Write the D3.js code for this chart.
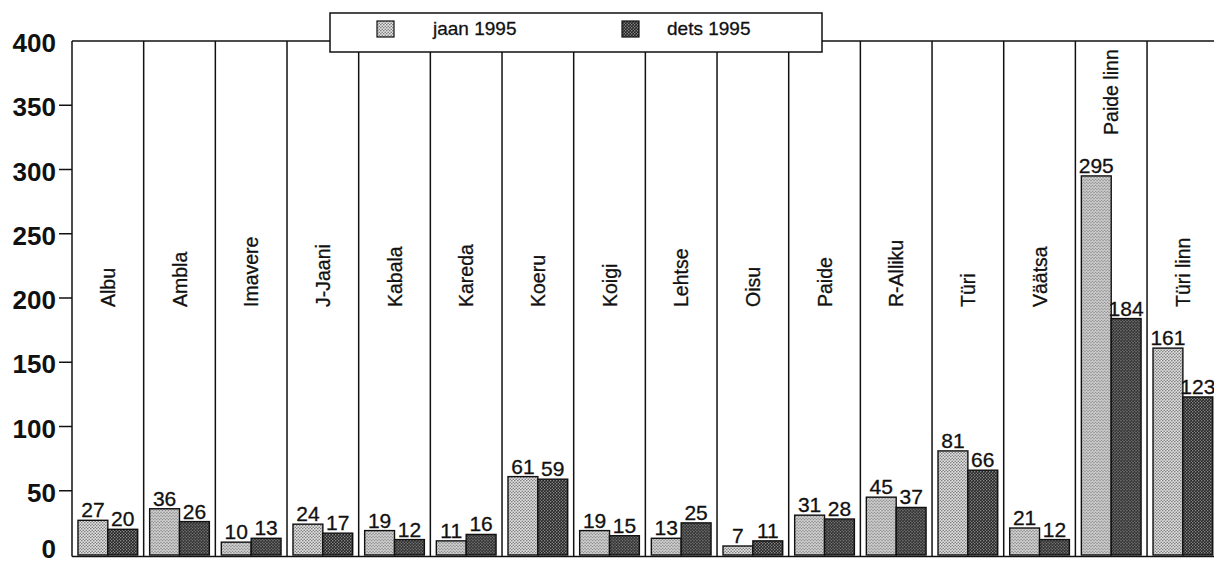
<!DOCTYPE html>
<html>
<head>
<meta charset="utf-8">
<script src="https://cdn.jsdelivr.net/npm/d3@7"></script>
<style>
  body { margin: 0; background: #fff; }
  svg { display: block; font-family: "Liberation Sans", Arial, sans-serif; }
  .frame { stroke: #111; stroke-width: 1.5; fill: none; }
  .bar { stroke: #111; stroke-width: 1.4; }
  .ytick { font-size: 26px; font-weight: bold; fill: #111; }
  .cat { font-size: 19.5px; fill: #111; stroke: #111; stroke-width: 0.3; }
  .val { font-size: 21px; fill: #111; stroke: #111; stroke-width: 0.3; }
  .legend text { font-size: 19px; fill: #111; stroke: #111; stroke-width: 0.3; }
</style>
</head>
<body>
<svg class="chart" width="1214" height="565"></svg>
<script>
const categories = ["Albu", "Ambla", "Imavere", "J-Jaani", "Kabala", "Kareda", "Koeru", "Koigi",
    "Lehtse", "Oisu", "Paide", "R-Alliku", "Türi", "Väätsa", "Paide linn", "Türi linn"]
const jaan = [27, 36, 10, 24, 19, 11, 61, 19, 13, 7, 31, 45, 81, 21, 295, 161]
const dets = [20, 26, 13, 17, 12, 16, 59, 15, 25, 11, 28, 37, 66, 12, 184, 123]
const seriesNames = ["jaan 1995", "dets 1995"]
const yTicks = [0, 50, 100, 150, 200, 250, 300, 350, 400]

const svg = d3.select("svg.chart")

const defs = svg.append("defs")

const light = defs.append("pattern")
    .attr("id", "light")
    .attr("patternUnits", "userSpaceOnUse")
    .attr("width", 3)
    .attr("height", 3)
light.append("rect").attr("width", 3).attr("height", 3).attr("fill", "#e4e4e4")
light.append("circle").attr("cx", 0.75).attr("cy", 0.75).attr("r", 0.8).attr("fill", "#777")
light.append("circle").attr("cx", 2.25).attr("cy", 2.25).attr("r", 0.8).attr("fill", "#777")

const dark = defs.append("pattern")
    .attr("id", "dark")
    .attr("patternUnits", "userSpaceOnUse")
    .attr("width", 3)
    .attr("height", 3)
dark.append("rect").attr("width", 3).attr("height", 3).attr("fill", "#222")
dark.append("circle").attr("cx", 0.75).attr("cy", 0.75).attr("r", 0.7).attr("fill", "#aaa")
dark.append("circle").attr("cx", 2.25).attr("cy", 2.25).attr("r", 0.7).attr("fill", "#999")

const fills = ["url(#light)", "url(#dark)"]

const x = d3.scaleBand()
    .domain(categories)
    .range([72, 72 + 16 * 71.67])
    .padding(0)

const x1 = d3.scaleBand()
    .domain([0, 1])
    .range([0, x.bandwidth()])
    .paddingInner(0)
    .paddingOuter(0.2)

const y = d3.scaleLinear()
    .domain([0, 400])
    .range([555, 41])

// frame: top line, baseline, column dividers
svg.append("line").attr("class", "frame")
    .attr("x1", 72).attr("x2", 1214).attr("y1", y(400)).attr("y2", y(400))
svg.append("line").attr("class", "frame")
    .attr("x1", 72).attr("x2", 1214).attr("y1", y(0) + 1.5).attr("y2", y(0) + 1.5)

svg.selectAll("line.divider")
    .data(categories)
    .enter()
    .append("line")
    .attr("class", "frame divider")
    .attr("x1", d => x(d))
    .attr("x2", d => x(d))
    .attr("y1", y(400))
    .attr("y2", y(0) + 1.5)

// y axis ticks and labels
svg.selectAll("line.tick")
    .data(yTicks.filter(t => t > 0 && t < 400))
    .enter()
    .append("line")
    .attr("class", "frame tick")
    .attr("x1", 59)
    .attr("x2", 72)
    .attr("y1", d => y(d))
    .attr("y2", d => y(d))

svg.selectAll("text.ytick")
    .data(yTicks)
    .enter()
    .append("text")
    .attr("class", "ytick")
    .attr("x", 56)
    .attr("y", d => d === 0 ? 558 : y(d) + 11)
    .attr("text-anchor", "end")
    .text(d => d)

// bars
const groups = svg.selectAll("g.col")
    .data(categories.map((c, i) => ({ name: c, values: [jaan[i], dets[i]] })))
    .enter()
    .append("g")
    .attr("class", "col")
    .attr("transform", d => "translate(" + x(d.name) + ",0)")

groups.selectAll("rect")
    .data(d => d.values)
    .enter()
    .append("rect")
    .attr("class", "bar")
    .attr("x", (d, i) => x1(i))
    .attr("y", d => y(d))
    .attr("width", x1.bandwidth())
    .attr("height", d => y(0) - y(d))
    .attr("fill", (d, i) => fills[i])

groups.selectAll("text.val")
    .data(d => d.values)
    .enter()
    .append("text")
    .attr("class", "val")
    .attr("x", (d, i) => x1(i) + x1.bandwidth() / 2)
    .attr("y", d => y(d) - 3)
    .attr("text-anchor", "middle")
    .text(d => d)

groups.append("text")
    .attr("class", "cat")
    .attr("transform", d => {
        const ly = Math.min(307, y(d3.max(d.values)) - 41)
        return "translate(" + (x.bandwidth() / 2 + 7) + "," + ly + ") rotate(-90)"
    })
    .text(d => d.name)

// legend
const legend = svg.append("g").attr("class", "legend")

legend.append("rect")
    .attr("x", 330)
    .attr("y", 13)
    .attr("width", 492)
    .attr("height", 39)
    .attr("fill", "#fff")
    .attr("stroke", "#111")
    .attr("stroke-width", 1.5)

const legendX = [377, 622]

const items = legend.selectAll("g.item")
    .data(seriesNames)
    .enter()
    .append("g")
    .attr("class", "item")
    .attr("transform", (d, i) => "translate(" + legendX[i] + ",0)")

items.append("rect")
    .attr("x", 0)
    .attr("y", 21)
    .attr("width", 17)
    .attr("height", 16)
    .attr("fill", (d, i) => fills[i])
    .attr("stroke", "#111")
    .attr("stroke-width", 1.2)

items.append("text")
    .attr("x", (d, i) => i === 0 ? 56 : 45)
    .attr("y", 35)
    .text(d => d)
</script>
</body>
</html>
